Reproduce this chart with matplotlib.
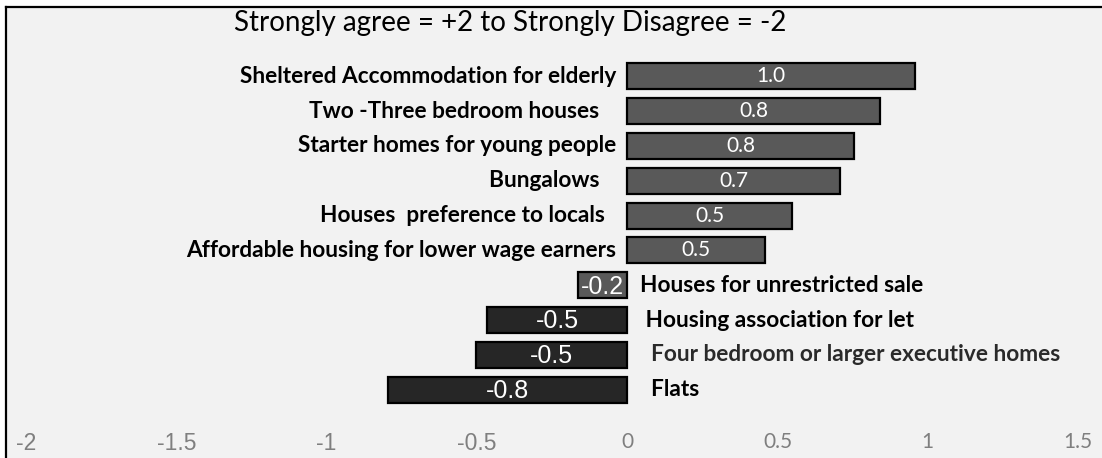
import matplotlib
matplotlib.use("Agg")
import matplotlib.pyplot as plt
from matplotlib.patches import Rectangle
from matplotlib.lines import Line2D

# ---- data ----
categories = [
    "Sheltered Accommodation for elderly",
    "Two -Three bedroom houses   ",
    "Starter homes for young people",
    "Bungalows   ",
    "Houses  preference to locals  ",
    "Affordable housing for lower wage earners",
    "Houses for unrestricted sale",
    " Housing association for let",
    "  Four bedroom or larger executive homes",
    "  Flats",
]
values = [0.956, 0.842, 0.753, 0.709, 0.548, 0.459, -0.165, -0.467, -0.502, -0.796]
value_labels = ["1.0", "0.8", "0.8", "0.7", "0.5", "0.5", "-0.2", "-0.5", "-0.5", "-0.8"]
tick_values = [-2, -1.5, -1, -0.5, 0, 0.5, 1, 1.5]
tick_labels = ["-2", "-1.5", "-1", "-0.5", "0", "0.5", "1", "1.5"]
title = "Strongly agree = +2 to Strongly Disagree = -2"

# ---- style ----
BG = "#f2f2f2"
LIGHT = "#595959"
DARK = "#262626"
bar_colors = [LIGHT] * 7 + [DARK] * 3
label_colors = ["black"] * 8 + ["#2a2a2a", "black"]

W, H = 1102, 458
fig = plt.figure(figsize=(W / 100, H / 100), dpi=100, facecolor="white")

# chart area background and frame (cropped on the right / bottom)
fx0, fy0 = 6 / W, 1 - 7 / H
fig.patches.append(Rectangle((fx0, 0), 1 - fx0 + 0.01, fy0, transform=fig.transFigure,
                             facecolor=BG, edgecolor="none", zorder=-5))
fig.lines.append(Line2D([fx0, fx0], [0, fy0], transform=fig.transFigure, color="black", lw=1.6, zorder=-4))
fig.lines.append(Line2D([fx0, 1.01], [fy0, fy0], transform=fig.transFigure, color="black", lw=1.6, zorder=-4))

px_per_unit = 300.6
x_left_px = 26
xmin, xmax = -2, 1.55
top_px, bot_px = 58.9, 407.1
ax = fig.add_axes([x_left_px / W, 1 - bot_px / H,
                   (xmax - xmin) * px_per_unit / W, (bot_px - top_px) / H])
ax.set_facecolor("none")
ax.set_xlim(xmin, xmax)
n = len(categories)
ax.set_ylim(n - 0.5, -0.5)

ypos = list(range(n))
ax.barh(ypos, values, height=0.75, color=bar_colors, edgecolor="black", linewidth=1.6, zorder=2)

for y, v, vl, cat, lc in zip(ypos, values, value_labels, categories, label_colors):
    if v >= 0 and not vl.startswith("-"):
        ax.text(v / 2, y, vl, ha="center", va="center", color="white",
                fontsize=15, family="Lato", zorder=3)
    else:
        ax.text(v / 2, y + 0.04, vl, ha="center", va="center", color="white",
                fontsize=18, family="Liberation Sans", zorder=3)
    if v >= 0:
        ax.annotate(cat, xy=(0, y), xytext=(-8, 0), textcoords="offset points",
                    ha="right", va="center", fontsize=16.3, fontweight="bold",
                    family="Lato", color=lc)
    else:
        ax.annotate(cat, xy=(0, y), xytext=(9, 0), textcoords="offset points",
                    ha="left", va="center", fontsize=16.3, fontweight="bold",
                    family="Lato", color=lc)

ax.set_yticks([])
ax.set_xticks(tick_values)
ax.set_xticklabels(tick_labels)
ax.tick_params(axis="x", length=0, pad=18, colors="#7f7f7f")
for tv, lbl in zip(tick_values, ax.get_xticklabels()):
    if tv < 0:
        lbl.set_fontfamily("Liberation Sans")
        lbl.set_fontsize(16.5)
    else:
        lbl.set_fontfamily("Lato")
        lbl.set_fontsize(15)
for s in ax.spines.values():
    s.set_visible(False)

fig.text(510 / W, 1 - 23 / H, title, ha="center", va="center", fontsize=20,
         family="Lato", color="black")

fig.savefig("out.png", dpi=100, facecolor="white")
